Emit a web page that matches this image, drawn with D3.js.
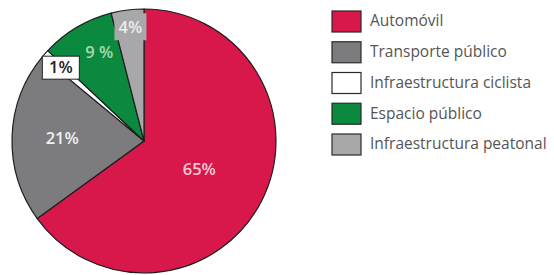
<!DOCTYPE html>
<html>
<head>
<meta charset="utf-8">
<script src="https://cdn.jsdelivr.net/npm/d3@7"></script>
<style>
  body { margin: 0; background: #fff; }
  svg { display: block; font-family: "Open Sans", "Noto Sans", sans-serif; }
</style>
</head>
<body>
<svg id="chart" width="554" height="275"></svg>
<script>
// data
var categories = ["Automóvil", "Transporte público", "Infraestructura ciclista", "Espacio público", "Infraestructura peatonal"];
var shares = [65, 21, 1, 9, 4];
var labels = ["65%", "21%", "1%", "9 %", "4%"];
var colors = ["#d8184a", "#7c7c7e", "#ffffff", "#0b8a3f", "#a8a8aa"];
var labelColors = ["#f6c9d3", "#f0f0f0", "#222", "#a8d9b4", "#ececec"];

var svg = d3.select("#chart"),
    cx = 144, cy = 141, r = 132;

var pie = d3.pie().sort(null).value(function(d){ return d; }),
    arc = d3.arc().innerRadius(0).outerRadius(r),
    arcs = pie(shares);

var g = svg.append("g").attr("transform", "translate(" + cx + "," + cy + ")");

g.selectAll("path.slice")
  .data(arcs)
  .enter().append("path")
  .attr("class", "slice")
  .attr("d", arc)
  .attr("fill", function(d, i){ return colors[i]; })
  .attr("stroke", "#1e1e1e")
  .attr("stroke-width", 1.2)
  .attr("stroke-linejoin", "round");

// label positions (radius fraction along slice mid-angle)
var labelR = [0.47, 0.62, 0.84, 0.74, 0.88];
var boxed = [false, false, true, false, true];
var boxFill = [null, null, "#ffffff", null, "#a8a8aa"];
var boxStroke = [null, null, "#222", null, "none"];

arcs.forEach(function(d, i){
    var a = (d.startAngle + d.endAngle) / 2,
        rr = r * labelR[i],
        x = Math.sin(a) * rr,
        y = -Math.cos(a) * rr;
    if (i == 3) { x += 5; y -= 5; }
    if (i == 4) { x += 1; y += 1; }
    if (boxed[i]) {
        var w = (i == 2) ? 37 : 32, h = (i == 2) ? 23 : 27;
        g.append("rect")
          .attr("x", x - w/2).attr("y", y - h/2)
          .attr("width", w).attr("height", h)
          .attr("fill", boxFill[i])
          .attr("stroke", boxStroke[i])
          .attr("stroke-width", 1);
    }
    g.append("text")
      .attr("x", x).attr("y", y)
      .attr("dy", "0.35em")
      .attr("text-anchor", "middle")
      .attr("font-size", 16.5)
      .attr("font-weight", 600)
      .attr("fill", labelColors[i])
      .text(labels[i]);
});

// legend
var legY = d3.scalePoint().domain(categories).range([21, 144]);

var leg = svg.append("g").selectAll("g")
  .data(categories)
  .enter().append("g")
  .attr("transform", function(d){ return "translate(332," + legY(d) + ")"; });

leg.append("rect")
  .attr("x", 0).attr("y", -10)
  .attr("width", 29).attr("height", 21)
  .attr("fill", function(d, i){ return colors[i]; })
  .attr("stroke", "#2a2a2a")
  .attr("stroke-width", 1.2);

leg.append("text")
  .attr("x", 38).attr("y", 0)
  .attr("dy", "0.35em")
  .attr("font-size", 15.5)
  .attr("fill", "#555")
  .text(function(d){ return d; });
</script>
</body>
</html>
